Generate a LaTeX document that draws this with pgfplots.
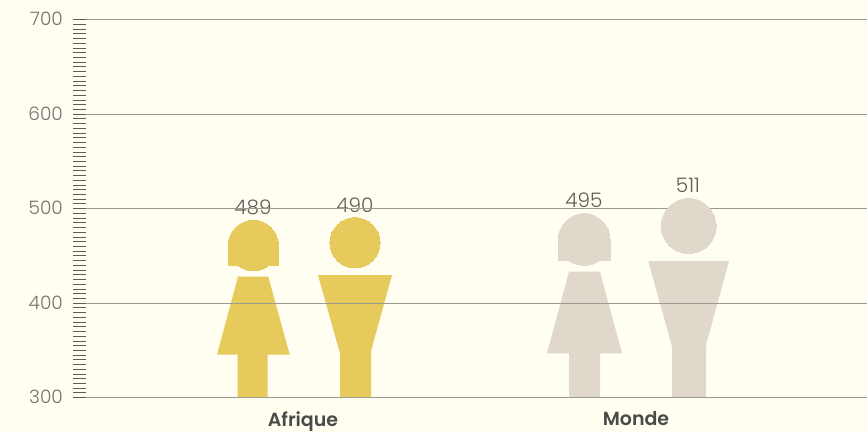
\documentclass[border=0pt]{standalone}
\usepackage{pgfplots}
\usepackage{fontspec}
\pgfplotsset{compat=1.18}
\setmainfont{Poppins Light}
\newfontfamily\labfont{Poppins SemiBold}
\definecolor{bg}{HTML}{FFFEF0}
\definecolor{yel}{HTML}{E6CB5C}
\definecolor{bei}{HTML}{E0D9CB}
\definecolor{gridc}{HTML}{9A9A90}
\definecolor{tickc}{HTML}{5E5E58}
\definecolor{numc}{HTML}{727270}
\definecolor{datac}{HTML}{5E5E5A}
\definecolor{labc}{HTML}{4A4A48}
\begin{document}
\begin{tikzpicture}[x=1pt,y=1pt]
\path[use as bounding box,fill=bg] (0,0) rectangle (867,432);
\begin{axis}[
  at={(86pt,34.5pt)},anchor=south west,
  scale only axis,width=781pt,height=378pt,
  xmin=86,xmax=867,ymin=300,ymax=700,
  axis on top,
  axis line style={draw=none},
  ytick={300,400,500,600,700},
  minor y tick num=19,
  ymajorgrids,
  major grid style={gridc,line width=0.8pt},
  y tick style={tickc,line width=0.6pt},
  minor y tick style={tickc,line width=0.6pt},
  tick align=outside,
  major tick length=13pt,minor tick length=13pt,
  xtick={303,636},xticklabels={Afrique,Monde},
  x tick style={draw=none},
  /pgf/number format/assume math mode=true,
  /pgf/number format/set thousands separator={},
  yticklabel style={font=\fontsize{18.5}{18.5}\selectfont,text=numc,inner sep=0pt,xshift=-10pt,yshift=0.5pt},
  xticklabel style={font=\fontsize{19}{19}\labfont,text=labc,inner sep=0pt,yshift=-1pt},
]
% Afrique, femme
\addplot[draw=none,fill=yel] coordinates {(227.5,461)(279.1,461)(279.1,439.2)(227.5,439.2)} -- cycle;
\addplot[yel,only marks,mark=*,mark size=25.2,mark options={solid,fill=yel,draw=yel,line width=0pt}] coordinates {(253.3,460.8)};
\addplot[draw=none,fill=yel] coordinates {(238,427.8)(268.3,427.8)(289.7,345.3)(267.7,345.3)(267.7,300)(237.7,300)(237.7,345.3)(217,345.3)} -- cycle;
% Afrique, homme
\addplot[yel,only marks,mark=*,mark size=25.1,mark options={solid,fill=yel,draw=yel,line width=0pt}] coordinates {(355,463.8)};
\addplot[draw=none,fill=yel] coordinates {(318,429.6)(392,429.6)(371,349.2)(371,300)(340,300)(340,346.6)} -- cycle;
% Monde, femme
\addplot[draw=none,fill=bei] coordinates {(557.8,467.4)(610.5,467.4)(610.5,444.8)(557.8,444.8)} -- cycle;
\addplot[bei,only marks,mark=*,mark size=25.9,mark options={solid,fill=bei,draw=bei,line width=0pt}] coordinates {(584.2,467.2)};
\addplot[draw=none,fill=bei] coordinates {(569,433.1)(600,433.1)(622,346.8)(600,346.8)(600,300)(569,300)(569,346.8)(547,346.8)} -- cycle;
% Monde, homme
\addplot[bei,only marks,mark=*,mark size=27.5,mark options={solid,fill=bei,draw=bei,line width=0pt}] coordinates {(688.7,481.5)};
\addplot[draw=none,fill=bei] coordinates {(648.3,444.4)(729,444.4)(706,355.6)(706,300)(672,300)(672,353.8)} -- cycle;
% valeurs
\node[font=\fontsize{20}{20}\selectfont,text=datac] at (axis cs:253,501.6) {489};
\node[font=\fontsize{20}{20}\selectfont,text=datac] at (axis cs:355,503.7) {490};
\node[font=\fontsize{20}{20}\selectfont,text=datac] at (axis cs:584,508.5) {495};
\node[font=\fontsize{20}{20}\selectfont,text=datac] at (axis cs:688,524.9) {511};
\end{axis}
\end{tikzpicture}
\end{document}
